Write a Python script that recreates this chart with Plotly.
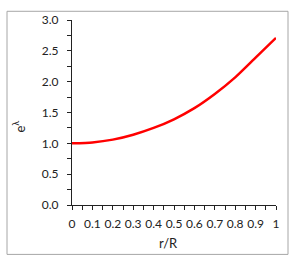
import plotly.graph_objects as go

r_over_R = [0, 0.1, 0.2, 0.3, 0.4, 0.5, 0.6, 0.7, 0.8, 0.9, 1.0]
e_lambda = [1.0, 1.015, 1.06, 1.14, 1.25, 1.39, 1.57, 1.80, 2.07, 2.39, 2.71]

x_ticks = [0, 0.1, 0.2, 0.3, 0.4, 0.5, 0.6, 0.7, 0.8, 0.9, 1]
x_labels = ["0", "0.1", "0.2", "0.3", "0.4", "0.5", "0.6", "0.7", "0.8", "0.9", "1"]
y_ticks = [0.0, 0.5, 1.0, 1.5, 2.0, 2.5, 3.0]
y_labels = ["0.0", "0.5", "1.0", "1.5", "2.0", "2.5", "3.0"]

FONT = "Lato, Calibri, Carlito, sans-serif"

fig = go.Figure()
fig.add_trace(go.Scatter(x=r_over_R, y=e_lambda, mode="lines",
                         line=dict(color="#ff0000", width=2.5, shape="spline", smoothing=0.6),
                         showlegend=False, hoverinfo="skip"))

fig.update_layout(
    width=300, height=263, autosize=False,
    margin=dict(l=72, r=24, t=14, b=58),
    paper_bgcolor="white", plot_bgcolor="white",
    font=dict(family=FONT, size=12, color="#222222"),
    xaxis=dict(range=[0, 1], tickmode="array", tickvals=x_ticks, ticktext=x_labels,
               showgrid=False, zeroline=False, showline=True, linecolor="#222222", linewidth=1,
               ticks="outside", ticklen=4, tickcolor="#222222", tickwidth=1, ticklabelstandoff=4,
               minor=dict(dtick=0.05, ticks="outside", ticklen=4, tickcolor="#222222", tickwidth=1, showgrid=False),
               tickfont=dict(size=12, family=FONT), fixedrange=True),
    yaxis=dict(range=[0, 3], tickmode="array", tickvals=y_ticks, ticktext=y_labels,
               showgrid=False, zeroline=False, showline=True, linecolor="#222222", linewidth=1,
               ticks="outside", ticklen=4, tickcolor="#222222", tickwidth=1, ticklabelstandoff=6,
               minor=dict(dtick=0.25, ticks="outside", ticklen=4, tickcolor="#222222", tickwidth=1, showgrid=False),
               tickfont=dict(size=12, family=FONT), fixedrange=True),
    shapes=[dict(type="rect", xref="paper", yref="paper",
                 x0=(7 - 72) / 204, x1=(288 - 72) / 204,
                 y0=(205 - 256) / 191, y1=(205 - 5) / 191,
                 line=dict(color="#a6a6a6", width=1), fillcolor="rgba(0,0,0,0)", layer="below")],
    annotations=[
        dict(text="e<sup>λ</sup>", xref="paper", yref="paper",
             x=(19 - 72) / 204, y=(205 - 124) / 191, showarrow=False, textangle=-90,
             font=dict(size=13, family=FONT, color="#222222"), xanchor="center", yanchor="middle"),
        dict(text="r/R", xref="paper", yref="paper",
             x=(168 - 72) / 204, y=(205 - 244) / 191, showarrow=False,
             font=dict(size=13, family=FONT, color="#222222"), xanchor="center", yanchor="middle"),
    ],
)

fig.write_html("out.html", config={"displayModeBar": False},
               post_script="document.body.style.margin='0';document.body.style.overflow='hidden';")
